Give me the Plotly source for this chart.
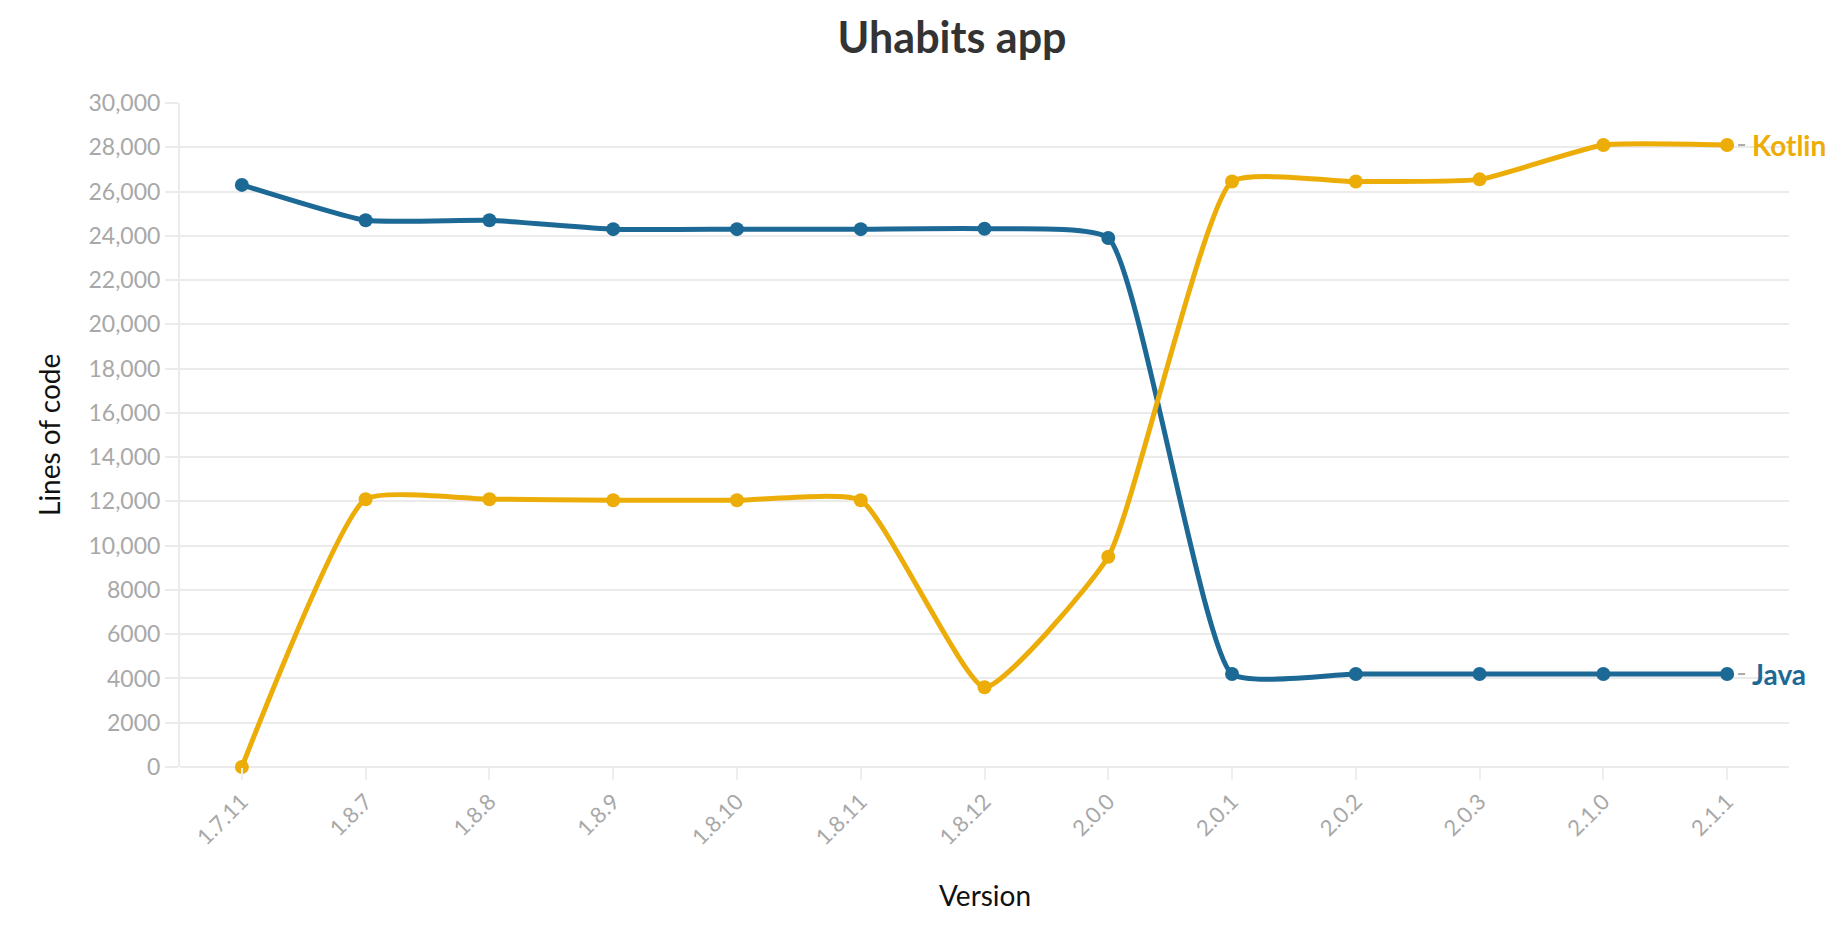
import plotly.graph_objects as go

versions = ["1.7.11", "1.8.7", "1.8.8", "1.8.9", "1.8.10", "1.8.11", "1.8.12",
            "2.0.0", "2.0.1", "2.0.2", "2.0.3", "2.1.0", "2.1.1"]
java = [26300, 24700, 24700, 24300, 24300, 24300, 24320, 23900, 4200, 4200, 4200, 4200, 4200]
kotlin = [0, 12100, 12100, 12050, 12050, 12050, 3600, 9500, 26450, 26450, 26550, 28100, 28100]

y_tickvals = [0, 2000, 4000, 6000, 8000, 10000, 12000, 14000, 16000, 18000, 20000,
              22000, 24000, 26000, 28000, 30000]
y_ticktext = ["0", "2000", "4000", "6000", "8000", "10,000", "12,000", "14,000", "16,000",
              "18,000", "20,000", "22,000", "24,000", "26,000", "28,000", "30,000"]

JAVA_C = "#1D6996"
KOTLIN_C = "#EDAD08"
FONT = "Lato"
idx = list(range(len(versions)))

W, H = 1837, 917
L, T = 172, 95
R = W - 1781
B = H - 759

fig = go.Figure()
for name, vals, col in [("Java", java, JAVA_C), ("Kotlin", kotlin, KOTLIN_C)]:
    fig.add_trace(go.Scatter(
        x=idx, y=vals, name=name, mode="lines+markers",
        line=dict(color=col, width=5, shape="spline", smoothing=0.45),
        marker=dict(color=col, size=14),
        cliponaxis=False, showlegend=False,
    ))

annotations = []
shapes = []
for name, vals, col in [("Java", java, JAVA_C), ("Kotlin", kotlin, KOTLIN_C)]:
    annotations.append(dict(
        x=idx[-1], y=vals[-1], xref="x", yref="y", text="<b>%s</b>" % name,
        showarrow=False, xanchor="left", yanchor="middle", xshift=23,
        font=dict(family=FONT, size=28, color=col)))
    shapes.append(dict(type="line", xref="x", yref="y", xsizemode="pixel",
                       xanchor=idx[-1], x0=11, x1=18, y0=vals[-1], y1=vals[-1],
                       line=dict(color="#aaaaaa", width=2)))

ph = H - T - B
pw = W - L - R
annotations.append(dict(x=0.5, y=-(887 - 759) / ph, xref="paper", yref="paper", text="Version",
                        showarrow=False, xanchor="center", yanchor="middle",
                        font=dict(family=FONT, size=28, color="#111111")))
annotations.append(dict(x=-(172 - 41) / pw, y=0.5, xref="paper", yref="paper", text="Lines of code",
                        showarrow=False, xanchor="center", yanchor="middle", textangle=-90,
                        font=dict(family=FONT, size=28, color="#111111")))

fig.update_layout(
    width=W, height=H,
    paper_bgcolor="white", plot_bgcolor="white",
    margin=dict(l=L, r=R, t=T, b=B),
    title=dict(text="<b>Uhabits app</b>", x=944 / W, xanchor="center", y=1 - 30 / H, yanchor="middle",
               xref="container", yref="container", font=dict(family=FONT, size=43, color="#333333")),
    font=dict(family=FONT),
    annotations=annotations,
    shapes=shapes,
    xaxis=dict(
        range=[-0.5, 12.5], tickmode="array", tickvals=idx, ticktext=versions,
        tickangle=-45, ticks="outside", ticklen=12, tickwidth=2, tickcolor="#eeeeee",
        showgrid=False, showline=False, zeroline=False,
        tickfont=dict(family=FONT, size=22, color="#a8a8a8"),
    ),
    yaxis=dict(
        range=[0, 30000], tickmode="array", tickvals=y_tickvals, ticktext=y_ticktext,
        showgrid=True, gridcolor="#ebebeb", gridwidth=2,
        ticks="outside", ticklen=13, tickwidth=2, tickcolor="#ebebeb",
        showline=True, linecolor="#ebebeb", linewidth=2,
        zeroline=True, zerolinecolor="#ebebeb", zerolinewidth=2,
        tickfont=dict(family=FONT, size=23, color="#a8a8a8"),
    ),
)

fig.write_html("out.html")
